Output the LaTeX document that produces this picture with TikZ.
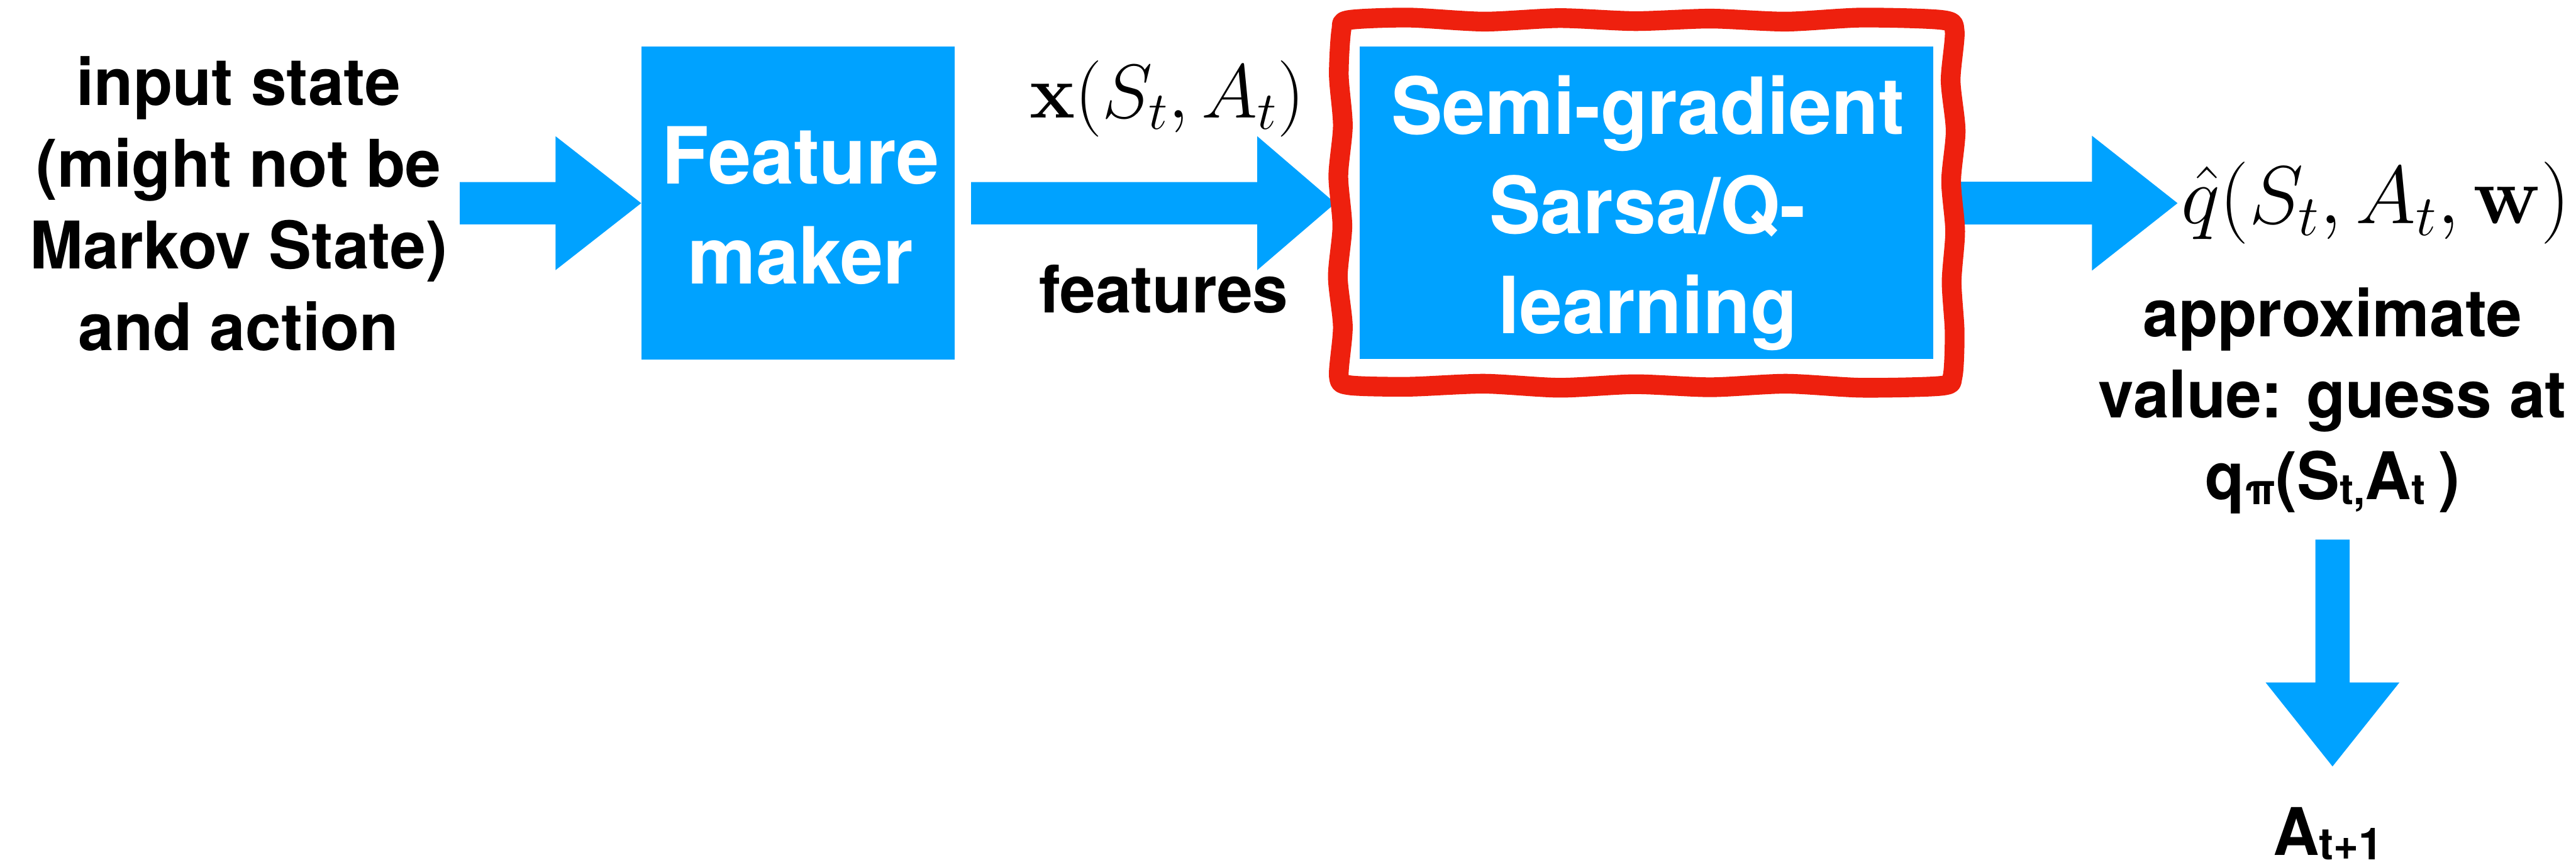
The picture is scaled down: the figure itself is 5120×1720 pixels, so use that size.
\RequirePackage{fix-cm}
\documentclass[tikz,border=0pt]{standalone}
\usepackage[no-math]{fontspec}
\setmainfont{TeX Gyre Heros}[FakeStretch=0.975]
\usetikzlibrary{calc,fit}
\definecolor{arrowblue}{RGB}{0,162,255}
\definecolor{framered}{RGB}{238,32,14}
\newcommand\lowsub[1]{\raisebox{-3pt}{\fontsize{26}{26}\selectfont #1}}
% horizontal block arrow: start, tip, shaft half width, head half width, head length
\newcommand\hblockarrow[5]{%
  \fill[arrowblue] ($(#1)+(0,-#3)$) -- ($(#2)+(-#5,-#3)$) -- ($(#2)+(-#5,-#4)$) -- (#2)
    -- ($(#2)+(-#5,#4)$) -- ($(#2)+(-#5,#3)$) -- ($(#1)+(0,#3)$) -- cycle;}
% vertical (downward) block arrow
\newcommand\vblockarrow[5]{%
  \fill[arrowblue] ($(#1)+(-#3,0)$) -- ($(#2)+(-#3,-#5)$) -- ($(#2)+(-#4,-#5)$) -- (#2)
    -- ($(#2)+(#4,-#5)$) -- ($(#2)+(#3,-#5)$) -- ($(#1)+(#3,0)$) -- cycle;}
\begin{document}
\begin{tikzpicture}[x=0.30625pt, y=-0.30625pt,
  lbl/.style={inner sep=0, anchor=base, font=\fontsize{40}{49.8}\selectfont\bfseries},
  boxtxt/.style={inner sep=0, anchor=base, text=white, font=\fontsize{48}{60.6}\selectfont\bfseries},
  bluebox/.style={fill=arrowblue, draw=none, inner sep=0}]
\useasboundingbox (0,0) rectangle (5120,1720);

% texts
\node[lbl] (inp) at (474,209) {\begin{tabular}[t]{@{}c@{}}input state\\(might not be\\Markov State)\\and action\end{tabular}};

% boxes
\node[bluebox, fit={(1275,93) (1897,715)}] (fm) {};
\node[bluebox, fit={(2702,93) (3843,714)}] (sg) {};
\node[boxtxt] (fmtext) at (1591,366) {\begin{tabular}[t]{@{}c@{}}Feature\\maker\end{tabular}};
\node[boxtxt] (sgtext) at (3275,267) {\begin{tabular}[t]{@{}c@{}}Semi-gradient\\Sarsa/Q-\\learning\end{tabular}};

% labels
\node[inner sep=0, anchor=base, font=\fontsize{46.5}{50}\selectfont] (xlab) at (2320,234) {$\mathbf{x}(S_t, A_t)$};
\node[lbl] (feat) at (2313,622) {features};
\node[inner sep=0, anchor=base, font=\fontsize{50}{54}\selectfont] (qlab) at (4722,444) {$\hat{q}(S_t, A_t, \mathbf{w})$};
\node[lbl, font=\fontsize{40}{49.6}\selectfont\bfseries] (approx) at (4636,669) {\begin{tabular}[t]{@{}c@{}}approximate\\value: guess at\\q\lowsub{π}(S\lowsub{t,}A\lowsub{t}\hspace{8pt})\end{tabular}};
\node[lbl] (anext) at (4627,1700) {A\raisebox{-3pt}{\fontsize{27}{27}\selectfont\bfseries t+1}};

% connector coordinates
\coordinate (a1s) at (914,404);
\coordinate (a2s) at (1930,404);
\coordinate (a2t) at (2654,404);
\coordinate (a3s) at (3870,404);
\coordinate (a3t) at (4328,404);
\coordinate (a4s) at (4636,1073);
\coordinate (a4t) at (4636,1524);

% arrows
\hblockarrow{a1s}{fm.west}{42}{133}{170}
\hblockarrow{a2s}{a2t}{42}{133}{155}
\hblockarrow{a3s}{a3t}{42.5}{134}{170}
\vblockarrow{a4s}{a4t}{34}{133}{167}

% hand-drawn red frame
\draw[framered, line width=12pt, line join=round] plot[smooth cycle, tension=0.45] coordinates {
  (2680,40) (2800,35) (2950,43) (3100,36) (3250,42) (3400,37) (3550,43) (3700,35) (3862,40)
  (3885,62) (3877,160) (3887,260) (3878,360) (3886,460) (3879,560) (3885,660) (3881,748)
  (3860,767) (3700,771) (3550,763) (3400,770) (3250,764) (3100,771) (2950,763) (2800,769) (2682,766)
  (2661,748) (2669,650) (2659,550) (2668,450) (2660,350) (2669,250) (2661,150) (2666,60)};
\end{tikzpicture}
\end{document}
